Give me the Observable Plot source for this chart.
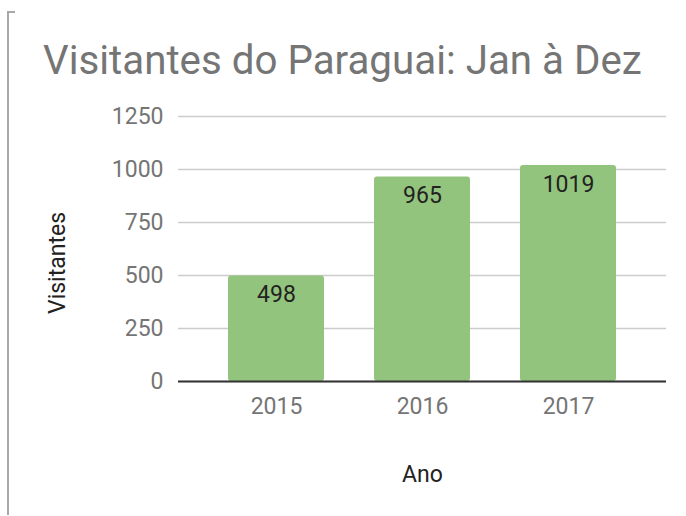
<!DOCTYPE html>
<html>
<head>
<meta charset="utf-8">
<script src="https://cdn.jsdelivr.net/npm/d3@7"></script>
<script src="https://cdn.jsdelivr.net/npm/@observablehq/plot@0.6"></script>
<style>
  html, body { margin: 0; padding: 0; background: #fff; }
  #wrap { position: relative; width: 686px; height: 516px; overflow: hidden; font-family: Roboto, "Noto Sans", sans-serif; }
  #bracket { position: absolute; left: 7px; top: 11px; width: 8px; height: 504px; border-left: 2px solid #aaa6a9; border-top: 2px solid #aaa6a9; box-sizing: border-box; }
  #title { position: absolute; left: 43px; top: 41px; font-size: 40.3px; color: #757575; white-space: nowrap; line-height: 1; }
  #chart { position: absolute; left: 0; top: 90px; }
</style>
</head>
<body>
<div id="wrap">
  <div id="bracket"></div>
  <div id="title">Visitantes do Paraguai: Jan à Dez</div>
  <div id="chart"></div>
</div>
<script>
const years = ["2015", "2016", "2017"];
const visitors = [498, 965, 1019];
const yTicks = [0, 250, 500, 750, 1000, 1250];
const xTitle = "Ano";
const yTitle = "Visitantes";

const data = years.map((y, i) => ({ano: y, v: visitors[i]}));

const chart = Plot.plot({
  width: 686,
  height: 426,
  marginTop: 26,
  marginBottom: 135,
  marginLeft: 178,
  marginRight: 20,
  style: {fontFamily: "Roboto, 'Noto Sans', sans-serif", background: "transparent"},
  x: {domain: years, padding: 0.34, label: null},
  y: {domain: [0, 1250], label: null},
  marks: [
    Plot.gridY(yTicks, {stroke: "#cccccc", strokeOpacity: 1, strokeWidth: 1.3}),
    Plot.axisY(yTicks, {tickSize: 0, tickPadding: 15, fontSize: 23, fill: "#757575", label: null, tickFormat: d => String(d)}),
    Plot.axisX({tickSize: 0, tickPadding: 16, fontSize: 23, fill: "#757575", label: null}),
    Plot.barY(data, {x: "ano", y: "v", fill: "#93c47d", rx: 3}),
    Plot.ruleY([0], {stroke: "#333333", strokeWidth: 2}),
    Plot.text(data, {x: "ano", y: "v", text: d => String(d.v), dy: 19, fill: "#222222", fontSize: 23}),
    Plot.text([yTitle], {frameAnchor: "left", text: d => d, rotate: -90, textAnchor: "middle", lineAnchor: "middle", dx: -121, dy: 14, fill: "#222222", fontSize: 23}),
    Plot.text([xTitle], {frameAnchor: "bottom", text: d => d, dy: 100, fill: "#222222", fontSize: 23})
  ]
});
document.getElementById("chart").appendChild(chart);
</script>
</body>
</html>
